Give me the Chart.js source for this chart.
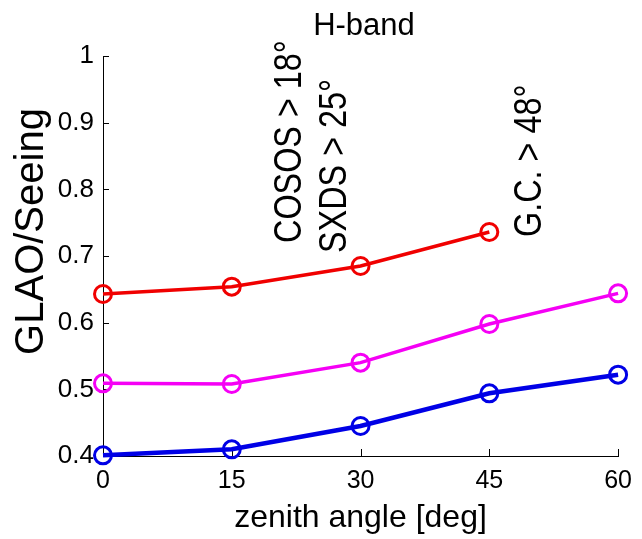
<!DOCTYPE html>
<html>
<head>
<meta charset="utf-8">
<script src="https://cdn.jsdelivr.net/npm/chart.js@4"></script>
<style>
  html, body { margin: 0; padding: 0; background: #fff; }
  #wrap { width: 642px; height: 539px; }
</style>
</head>
<body>
<div id="wrap"><canvas id="c" width="642" height="539"></canvas></div>
<script>
// Zenith angles (deg) at which GLAO/Seeing was evaluated
const zenithAngles = [0, 15, 30, 45, 60];

// GLAO / Seeing ratio, H-band
const redSeries     = [0.643, 0.654, 0.685, 0.736];
const magentaSeries = [0.509, 0.508, 0.540, 0.598, 0.644];
const blueSeries    = [0.401, 0.410, 0.445, 0.494, 0.522];

// Axis ticks
const xTicks = [0, 15, 30, 45, 60];
const yTicks = [0.4, 0.5, 0.6, 0.7, 0.8, 0.9, 1];

// Field cut-off notes
const cutoffLabels = ['COSOS > 18\u00B0', 'SXDS > 25\u00B0', 'G.C. > 48\u00B0'];

const titleText = 'H-band';
const xTitle = 'zenith angle [deg]';
const yTitle = 'GLAO/Seeing';

const FONT = "'Liberation Sans', Arial, Helvetica, sans-serif";

function toPoints(values) {
  return values.map((v, i) => ({ x: zenithAngles[i], y: v }));
}

function series(values, color, width) {
  return {
    data: toPoints(values),
    borderColor: color,
    borderWidth: width,
    pointRadius: 8.5,
    pointHoverRadius: 8.5,
    pointBorderWidth: 3,
    pointBorderColor: color,
    pointBackgroundColor: 'rgba(0,0,0,0)',
    pointStyle: 'circle',
    tension: 0,
    fill: false,
    clip: false
  };
}

// inward tick marks (drawn under the markers)
const innerTicks = {
  id: 'innerTicks',
  beforeDatasetsDraw(chart) {
    const { ctx, chartArea: a, scales: { x, y } } = chart;
    ctx.save();
    ctx.strokeStyle = '#000';
    ctx.lineWidth = 1;
    ctx.beginPath();
    yTicks.forEach(v => {
      const py = Math.round(y.getPixelForValue(v)) + 0.5;
      ctx.moveTo(a.left, py);
      ctx.lineTo(a.left + 6, py);
    });
    xTicks.forEach(v => {
      const px = Math.round(x.getPixelForValue(v)) + 0.5;
      ctx.moveTo(px, a.bottom);
      ctx.lineTo(px, a.bottom - 7);
    });
    ctx.stroke();
    ctx.restore();
  }
};

// title, axis titles and the rotated cut-off notes
const textLayer = {
  id: 'textLayer',
  afterDraw(chart) {
    const { ctx, scales: { x, y } } = chart;
    ctx.save();
    ctx.fillStyle = '#000';

    ctx.font = '31px ' + FONT;
    ctx.textAlign = 'center';
    ctx.textBaseline = 'alphabetic';
    ctx.fillText(titleText, 364, 35);

    ctx.font = '32px ' + FONT;
    ctx.fillText(xTitle, 360.5, 527);

    ctx.save();
    ctx.font = '40px ' + FONT;
    ctx.translate(43, 231.5);
    ctx.rotate(-Math.PI / 2);
    ctx.textAlign = 'center';
    ctx.fillText(yTitle, 0, 0);
    ctx.restore();

    // anchors in data coordinates: [angle at text baseline, ratio at text start]
    const anchors = [[23.1, 0.7195], [28.3, 0.7045], [51.0, 0.7285]];
    ctx.font = '39px ' + FONT;
    cutoffLabels.forEach((label, i) => {
      const px = x.getPixelForValue(anchors[i][0]);
      const py = y.getPixelForValue(anchors[i][1]);
      ctx.save();
      ctx.translate(px, py);
      ctx.rotate(-Math.PI / 2);
      ctx.scale(0.83, 1);
      ctx.textAlign = 'left';
      ctx.textBaseline = 'alphabetic';
      ctx.fillText(label, 0, 0);
      ctx.restore();
    });
    ctx.restore();
  }
};

new Chart(document.getElementById('c'), {
  type: 'line',
  data: {
    datasets: [
      series(redSeries, 'rgb(240,0,0)', 3.5),
      series(magentaSeries, 'rgb(245,0,245)', 3.5),
      series(blueSeries, 'rgb(0,0,230)', 4.5)
    ]
  },
  options: {
    responsive: false,
    animation: false,
    events: [],
    layout: { padding: { top: 56, right: 15, bottom: 0, left: 0 } },
    plugins: { legend: { display: false }, tooltip: { enabled: false }, title: { display: false } },
    scales: {
      x: {
        type: 'linear',
        min: 0,
        max: 60,
        afterBuildTicks: s => { s.ticks = xTicks.map(v => ({ value: v })); },
        afterFit: s => { s.height = 83; },
        grid: { drawOnChartArea: false, drawTicks: false },
        border: { display: true, color: '#000', width: 1 },
        ticks: {
          color: '#000',
          font: { family: FONT, size: 25 },
          padding: 10,
          maxRotation: 0,
          autoSkip: false,
          callback: v => String(v)
        }
      },
      y: {
        type: 'linear',
        min: 0.4,
        max: 1,
        afterBuildTicks: s => { s.ticks = yTicks.map(v => ({ value: v })); },
        afterFit: s => { s.width = 103; },
        grid: { drawOnChartArea: false, drawTicks: false },
        border: { display: true, color: '#000', width: 1 },
        ticks: {
          color: '#000',
          font: { family: FONT, size: 26 },
          padding: 9,
          autoSkip: false,
          callback: v => (v === 1 ? '1' : v.toFixed(1))
        }
      }
    }
  },
  plugins: [innerTicks, textLayer]
});
</script>
</body>
</html>
